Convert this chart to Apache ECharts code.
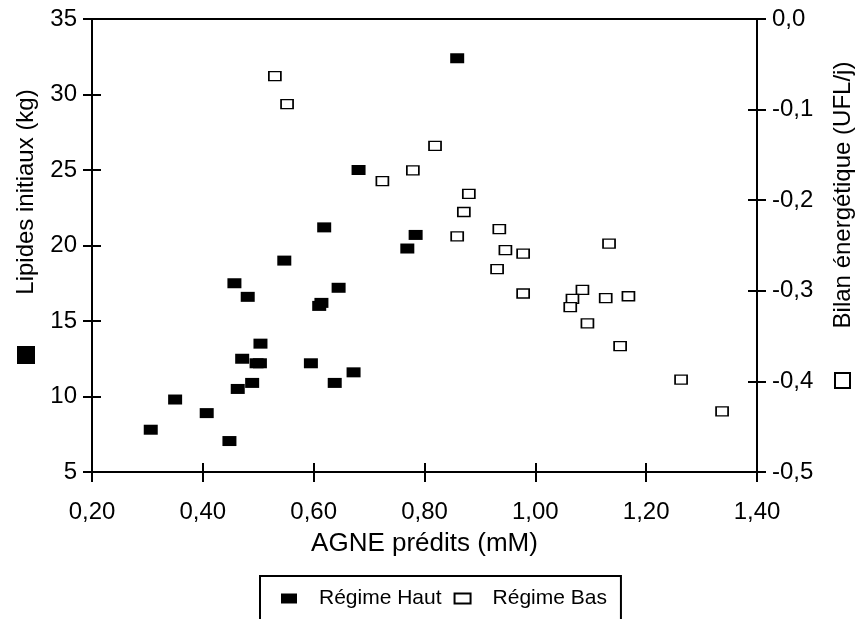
<!DOCTYPE html>
<html>
<head>
<meta charset="utf-8">
<script src="https://cdn.jsdelivr.net/npm/echarts@6/dist/echarts.min.js"></script>
<style>html,body{margin:0;padding:0;background:#fff}#c{width:860px;height:619px}</style>
</head>
<body>
<div id="c"></div>
<script>
// AGNE prédits (mM) and Lipides initiaux (kg) — Régime Haut
const hautX = [0.859, 0.681, 0.619, 0.784, 0.769, 0.547, 0.457, 0.645, 0.481, 0.614, 0.610, 0.504, 0.471, 0.497, 0.503, 0.595, 0.672, 0.638, 0.489, 0.463, 0.350, 0.407, 0.306, 0.448];
const hautY = [32.4, 25.0, 21.2, 20.7, 19.8, 19.0, 17.5, 17.2, 16.6, 16.2, 16.0, 13.5, 12.5, 12.2, 12.2, 12.2, 11.6, 10.9, 10.9, 10.5, 9.8, 8.9, 7.8, 7.05];
// AGNE prédits (mM) and Bilan énergétique (UFL/j) — Régime Bas
const basX = [0.530, 0.552, 0.819, 0.779, 0.724, 0.880, 0.871, 0.935, 0.859, 1.133, 0.946, 0.978, 0.931, 1.085, 0.978, 1.168, 1.127, 1.067, 1.063, 1.094, 1.153, 1.263, 1.337];
const basY = [-0.063, -0.094, -0.140, -0.167, -0.179, -0.193, -0.213, -0.232, -0.240, -0.248, -0.255, -0.259, -0.276, -0.299, -0.303, -0.306, -0.308, -0.309, -0.318, -0.336, -0.361, -0.398, -0.433];

const seriesNames = ['Régime Haut', 'Régime Bas'];
const xTitle = 'AGNE prédits (mM)';
const yLeftTitle = 'Lipides initiaux (kg)';
const yRightTitle = 'Bilan énergétique (UFL/j)';
const xRange = [0.2, 1.4, 0.2];
const yLeftRange = [5, 35, 5];
const yRightRange = [-0.5, 0, 0.1];

const FONT = '"Liberation Sans", Arial, Helvetica, sans-serif';
const lineStyle = {color: '#000', width: 2};

function xAx(inside, extra) {
  return Object.assign({
    type: 'value', min: xRange[0], max: xRange[1], interval: xRange[2], position: 'bottom',
    axisLine: {show: true, onZero: false, lineStyle},
    axisTick: {show: true, inside, length: inside ? 9 : 10, lineStyle},
    splitLine: {show: false},
    axisLabel: {show: !inside, margin: 28, color: '#000', fontSize: 24, fontFamily: FONT,
      formatter: v => v.toFixed(2).replace('.', ',')}
  }, extra || {});
}
function yAx(range, pos, inside, fmt) {
  return {
    type: 'value', min: range[0], max: range[1], interval: range[2], position: pos,
    axisLine: {show: true, onZero: false, lineStyle},
    axisTick: {show: true, inside, length: 9, lineStyle},
    splitLine: {show: false},
    axisLabel: {show: !inside, margin: 15, color: '#000', fontSize: 24, fontFamily: FONT, formatter: fmt}
  };
}
const fmtL = v => String(Math.round(v));
const fmtR = v => (Math.round(v * 10) / 10).toFixed(1).replace('.', ',');

const chart = echarts.init(document.getElementById('c'), null, {renderer: 'canvas'});
chart.setOption({
  animation: false,
  backgroundColor: '#fff',
  grid: {left: 92, right: 103, top: 19, bottom: 147, show: true, borderColor: '#000', borderWidth: 2, backgroundColor: 'transparent'},
  xAxis: [
    xAx(false, {name: xTitle, nameLocation: 'middle', nameGap: 59,
      nameTextStyle: {color: '#000', fontSize: 26, fontFamily: FONT}}),
    xAx(true)
  ],
  yAxis: [
    yAx(yLeftRange, 'left', false, fmtL),
    yAx(yRightRange, 'right', false, fmtR),
    yAx(yLeftRange, 'left', true, fmtL),
    yAx(yRightRange, 'right', true, fmtR)
  ],
  legend: {
    data: seriesNames, left: 260, top: 576, orient: 'horizontal',
    itemWidth: 16, itemHeight: 10, itemGap: 12,
    borderColor: '#000', borderWidth: 2, borderRadius: 0,
    padding: [12, 14, 40, 21],
    textStyle: {color: '#000', fontSize: 21, fontFamily: FONT, padding: [0, 0, 0, 17]}
  },
  series: [
    {
      name: seriesNames[0], type: 'scatter', xAxisIndex: 0, yAxisIndex: 0,
      symbol: 'rect', symbolSize: [14, 10],
      itemStyle: {color: '#000', opacity: 1},
      data: hautX.map((x, i) => [x, hautY[i]])
    },
    {
      name: seriesNames[1], type: 'scatter', xAxisIndex: 0, yAxisIndex: 1,
      symbol: 'rect', symbolSize: [12, 9],
      itemStyle: {color: '#fff', borderColor: '#000', borderWidth: 1.5, opacity: 1},
      data: basX.map((x, i) => [x, basY[i]])
    }
  ],
  graphic: [
    {type: 'text', x: 26, y: 192, rotation: Math.PI / 2,
      style: {text: yLeftTitle, fill: '#000', font: '24px ' + FONT, textAlign: 'center', textVerticalAlign: 'middle'}},
    {type: 'rect', shape: {x: 17, y: 346, width: 18, height: 18}, style: {fill: '#000'}},
    {type: 'text', x: 843, y: 195, rotation: Math.PI / 2,
      style: {text: yRightTitle, fill: '#000', font: '24px ' + FONT, textAlign: 'center', textVerticalAlign: 'middle'}},
    {type: 'rect', shape: {x: 835, y: 373, width: 15, height: 15}, style: {fill: '#fff', stroke: '#000', lineWidth: 2}}
  ]
});
</script>
</body>
</html>
